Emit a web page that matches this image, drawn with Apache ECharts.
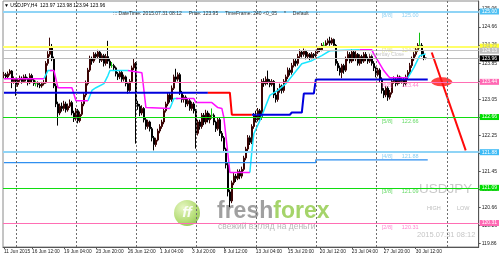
<!DOCTYPE html>
<html><head><meta charset="utf-8">
<script src="https://cdn.jsdelivr.net/npm/echarts@6/dist/echarts.min.js"></script>
<style>html,body{margin:0;padding:0;background:#fff}#c{width:500px;height:257px}</style>
</head><body><div id="c"></div>
<script>
// [open, close, low, high] per H4 bar
const candles = [
[123.58,123.60,123.52,123.66],[123.60,123.55,123.50,123.64],[123.55,123.62,123.51,123.67],[123.62,123.68,123.58,123.72],[123.68,123.45,123.30,123.70],
[123.45,123.50,123.40,123.56],[123.50,123.38,123.13,123.53],[123.38,123.48,123.33,123.52],[123.48,123.52,123.44,123.58],[123.52,123.45,123.40,123.56],
[123.45,123.55,123.42,123.60],[123.55,123.50,123.45,123.61],[123.50,123.42,123.36,123.54],[123.42,123.58,123.39,123.63],[123.58,123.48,123.43,123.62],
[123.48,123.40,123.35,123.52],[123.40,123.40,123.34,123.47],[123.40,123.38,123.32,123.45],[123.38,123.35,123.30,123.42],[123.35,123.40,123.31,123.44],
[123.40,123.42,123.36,123.48],[123.42,123.85,123.40,123.90],[123.85,124.05,123.80,124.12],[124.05,124.20,124.00,124.42],[124.20,123.95,123.90,124.28],
[123.95,123.35,123.30,124.00],[123.35,122.95,122.88,123.40],[122.95,122.75,122.47,123.00],[122.75,122.90,122.70,122.96],[122.90,122.85,122.78,122.98],
[122.85,122.95,122.80,123.02],[122.95,122.82,122.76,123.00],[122.82,122.90,122.78,122.96],[122.90,122.98,122.86,123.05],[122.98,122.75,122.70,123.02],
[122.75,122.62,122.55,122.80],[122.62,122.80,122.58,122.86],[122.80,122.58,122.52,122.84],[122.58,122.72,122.54,122.78],[122.72,122.95,122.68,123.00],
[122.95,123.15,122.90,123.20],[123.15,123.40,123.10,123.47],[123.40,123.70,123.36,123.75],[123.70,123.95,123.66,124.02],[123.95,123.90,123.82,124.00],
[123.90,124.05,123.86,124.10],[124.05,124.00,123.94,124.09],[124.00,124.10,123.96,124.15],[124.10,123.92,123.86,124.13],[123.92,124.02,123.88,124.07],
[124.02,123.85,123.78,124.06],[123.85,124.00,123.80,124.06],[124.00,123.90,123.84,124.35],[123.90,123.80,123.74,123.95],[123.80,123.80,123.75,123.88],
[123.80,123.75,123.68,123.84],[123.75,123.62,123.56,123.78],[123.62,123.55,123.48,123.66],[123.55,123.65,123.50,123.70],[123.65,123.50,123.44,123.68],
[123.50,123.55,123.45,123.60],[123.55,123.40,123.34,123.58],[123.40,123.25,123.18,123.44],[123.25,123.45,123.22,123.50],[123.45,123.75,123.42,123.80],
[123.75,123.85,123.70,123.95],[123.85,122.95,122.07,123.88],[122.95,122.90,122.82,123.02],[122.90,122.75,122.68,122.95],[122.75,122.85,122.70,122.92],
[122.85,122.60,122.54,122.88],[122.60,122.45,122.38,122.64],[122.45,122.55,122.40,122.60],[122.55,122.40,122.34,122.58],[122.40,122.20,122.12,122.44],
[122.20,122.05,121.92,122.24],[122.05,122.15,122.00,122.20],[122.15,122.35,122.12,122.40],[122.35,122.45,122.30,122.50],[122.45,122.55,122.40,122.60],
[122.55,122.80,122.50,122.86],[122.80,122.95,122.76,123.00],[122.95,123.15,122.90,123.20],[123.15,123.05,122.98,123.20],[123.05,123.30,123.00,123.36],
[123.30,123.55,123.26,123.60],[123.55,123.50,123.44,123.73],[123.50,123.60,123.45,123.65],[123.60,123.20,123.15,123.64],[123.20,123.05,122.98,123.24],
[123.05,123.10,122.98,123.15],[123.10,122.95,122.88,123.14],[122.95,123.02,122.90,123.08],[123.02,122.85,122.80,123.06],[122.85,122.95,122.80,123.00],
[122.95,122.80,122.74,122.99],[122.80,122.30,121.96,122.84],[122.30,122.55,122.25,122.60],[122.55,122.45,122.38,122.60],[122.45,122.70,122.40,122.75],
[122.70,122.55,122.48,122.75],[122.55,122.75,122.50,122.82],[122.75,122.60,122.54,122.80],[122.60,122.70,122.52,122.74],[122.70,122.70,122.62,122.85],
[122.70,122.55,122.48,122.74],[122.55,122.40,122.33,122.58],[122.40,122.60,122.36,122.65],[122.60,122.30,122.24,122.64],[122.30,122.20,122.12,122.35],
[122.20,121.95,121.88,122.24],[121.95,121.60,121.52,121.98],[121.60,121.00,120.90,121.64],[121.00,120.80,120.66,121.05],[120.80,121.20,120.75,121.25],
[121.20,121.35,121.15,121.42],[121.35,121.30,121.22,121.40],[121.30,121.45,121.26,121.50],[121.45,121.35,121.28,121.50],[121.35,121.50,121.30,121.56],
[121.50,121.75,121.46,121.80],[121.75,121.95,121.70,122.00],[121.95,122.20,121.90,122.26],[122.20,122.10,122.04,122.25],[122.10,122.45,122.06,122.50],
[122.45,122.70,122.40,122.75],[122.70,122.60,122.54,122.80],[122.60,122.80,122.56,122.86],[122.80,122.65,122.58,122.84],[122.65,123.45,122.60,123.50],
[123.45,123.40,123.33,123.52],[123.40,123.50,123.36,123.56],[123.50,123.45,123.38,123.69],[123.45,123.38,123.32,123.50],[123.38,123.45,123.34,123.50],
[123.45,123.15,123.08,123.48],[123.15,123.05,122.98,123.20],[123.05,123.25,123.00,123.30],[123.25,123.35,123.20,123.40],[123.35,123.25,123.18,123.38],
[123.25,123.45,123.20,123.50],[123.45,123.55,123.40,123.60],[123.55,123.70,123.50,123.76],[123.70,123.65,123.58,123.75],[123.65,123.80,123.60,123.86],
[123.80,123.90,123.76,123.96],[123.90,123.85,123.78,123.95],[123.85,124.00,123.80,124.06],[124.00,124.10,123.95,124.16],[124.10,124.05,123.98,124.14],
[124.05,124.12,124.00,124.18],[124.12,124.00,123.94,124.15],[124.00,124.05,123.95,124.10],[124.05,123.98,123.92,124.08],[123.98,124.05,123.94,124.10],
[124.05,124.02,123.96,124.08],[124.02,124.10,123.98,124.15],[124.10,124.18,124.06,124.22],[124.18,124.15,124.10,124.22],[124.15,124.25,124.12,124.30],
[124.25,124.25,124.20,124.32],[124.25,124.30,124.20,124.36],[124.30,124.35,124.26,124.40],[124.35,124.30,124.24,124.44],[124.30,124.38,124.26,124.42],
[124.38,124.25,124.20,124.40],[124.25,123.85,123.80,124.28],[123.85,123.75,123.68,123.90],[123.75,123.65,123.58,123.80],[123.65,123.80,123.52,123.84],
[123.80,123.70,123.62,123.84],[123.70,123.95,123.66,124.00],[123.95,124.05,123.90,124.12],[124.05,123.90,123.85,124.10],[123.90,124.10,123.86,124.16],
[124.10,123.95,123.90,124.14],[123.95,124.05,123.90,124.12],[124.05,123.85,123.80,124.08],[123.85,124.00,123.80,124.05],[124.00,123.90,123.84,124.04],
[123.90,124.05,123.86,124.10],[124.05,123.95,123.90,124.10],[123.95,123.90,123.84,124.00],[123.90,124.00,123.86,124.06],[124.00,123.85,123.80,124.04],
[123.85,123.75,123.68,123.90],[123.75,123.60,123.54,123.78],[123.60,123.70,123.56,123.75],[123.70,123.50,123.44,123.74],[123.50,123.25,123.18,123.54],
[123.25,123.15,123.08,123.30],[123.15,123.30,123.10,123.35],[123.30,123.10,123.02,123.34],[123.10,123.20,123.05,123.26],[123.20,123.45,123.16,123.50],
[123.45,123.50,123.40,123.56],[123.50,123.40,123.34,123.54],[123.40,123.55,123.36,123.60],[123.55,123.45,123.40,123.58],[123.45,123.50,123.40,123.55],
[123.50,123.40,123.33,123.54],[123.40,123.55,123.36,123.60],[123.55,123.65,123.50,123.70],[123.65,123.80,123.60,123.86],[123.80,123.95,123.75,124.00],
[123.95,124.05,123.90,124.10],[124.05,124.15,124.00,124.20],[124.15,124.25,124.10,124.30],[124.25,124.25,124.18,124.53],[124.25,124.05,124.00,124.30],
[124.05,123.97,123.92,124.12],[123.97,123.96,123.94,123.98]
];
const dojiIdx = [16, 54, 104, 160, 208];

const NCAT = 238;
const xTickIdx  = [0, 14, 30, 46, 62, 78, 94, 110, 126, 142, 158, 174, 190, 206];
const xTickText = ['11 Jun 2015','16 Jun 12:00','19 Jun 04:00','23 Jun 20:00','26 Jun 12:00','1 Jul 04:00','3 Jul 20:00',
                   '8 Jul 12:00','13 Jul 04:00','15 Jul 20:00','20 Jul 12:00','23 Jul 04:00','27 Jul 20:00','30 Jul 12:00'];
const yTickValues = [125.06,124.66,124.26,123.85,123.45,123.05,122.65,122.25,121.85,121.45,121.05,120.66,120.26,119.86];
const separatorIdx = [6, 36, 66, 96, 126, 156, 186, 222];

const levelNames  = ['[8/8]','[7/8]','[6/8]','[5/8]','[4/8]','[3/8]','[2/8]'];
const levelValues = [125.00, 124.22, 123.44, 122.66, 121.88, 121.09, 120.31];
const yesterdayClose = 124.13;
const bidPrice = 123.96;

const cyanSegs = [
 [[20,123.51],[22,123.69],[24,123.69]],
 [[42,123.02],[44,123.25],[46,123.31],[50,123.40],[52,123.58],[53,123.69],[62,123.69]],
 [[83,122.85],[85,123.07],[87,123.07]],
 [[123,121.43],[124,121.90],[125,122.29],[128,122.58],[129,122.69],[133,123.14],[137,123.25],[141,123.40],[143,123.51],[149,123.84],[154,123.91],[159,124.02],[163,124.13],[178,124.15]],
 [[202,123.53],[205,123.75],[208,124.02],[211,124.06]]
];
const magentaSegs = [
 [[0,123.51],[20,123.51]],
 [[23,123.69],[25,123.69],[27,123.31],[34,123.31],[36,123.02],[42,123.02]],
 [[62,123.69],[69,123.64],[71,122.87],[83,122.85]],
 [[86,123.07],[95,123.07],[96,122.98],[104,122.98],[107,122.87],[109,122.85],[110,122.65],[112,121.85],[113,121.43],[123,121.43]],
 [[178,124.15],[184,124.15],[185,124.06],[188,123.84],[190,123.69],[192,123.58],[193,123.53],[202,123.53]]
];
const blueSegs = [
 [[0,123.20],[102,123.20]],
 [[124,122.71],[143,122.71],[144,122.76],[149,122.76],[150,123.18],[155,123.18],[156,123.49],[212,123.49]]
];
const redSegs = [
 [[102,123.20],[113,123.20],[114,122.71],[124,122.71]]
];
const lowerBand = [[0,121.65],[156,121.65],[156,121.71],[212,121.71]];
const forecastLine = [[214,124.09],[231,121.92]];
const targetPoint = [219, 123.44];

// ---------- build ----------
const categories = [];
for (let i = 0; i < NCAT; i++) categories.push('');
xTickIdx.forEach((ix, k) => { categories[ix] = xTickText[k]; });

const candleData = candles.map((c, i) => dojiIdx.includes(i)
  ? { value: c, itemStyle: { color: '#10c010', color0: '#10c010', borderColor: '#10c010', borderColor0: '#10c010' } }
  : c);

const levelStyle = [
  { line: '#8fd4f6', w: 2, box: '#4dbff2', txt: '#fff', tc: '#78c6ee' },
  { line: '#ffff6a', w: 2, box: '#ffff33', txt: '#b0b0b0', tc: '#e2e27a' },
  { line: '#ff6eb4', w: 1, box: '#ff69b4', txt: '#fff', tc: '#ff66c4' },
  { line: '#10dd10', w: 1, box: '#00dd00', txt: '#fff', tc: '#40d040' },
  { line: '#8fd4f6', w: 2, box: '#3dbaf5', txt: '#fff', tc: '#6ec2ee' },
  { line: '#10dd10', w: 1, box: '#00dd00', txt: '#fff', tc: '#40d040' },
  { line: '#ff6eb4', w: 1, box: '#ff69b4', txt: '#fff', tc: '#ff66c4' }
];
const FONT = 'Liberation Sans, Arial, sans-serif';
function boxLabel(bg, fg) {
  return { show: true, position: 'end', distance: 1, formatter: p => p.value.toFixed(2),
           backgroundColor: bg, color: fg, fontSize: 5, fontFamily: FONT, padding: [1, 2, 0, 2] };
}
const levelLines = levelValues.map((v, k) => ({
  yAxis: v, lineStyle: { color: levelStyle[k].line, width: levelStyle[k].w, type: 'solid' },
  label: boxLabel(levelStyle[k].box, levelStyle[k].txt)
}));
levelLines.push({ yAxis: yesterdayClose, lineStyle: { color: '#c4c4c4', width: 1, type: 'solid' }, label: boxLabel('#c0c0c0', '#fff') });
levelLines.push({ yAxis: bidPrice, lineStyle: { color: '#bdbdbd', width: 1, type: 'solid' }, label: boxLabel('#000', '#fff') });

const textIdx = 189;
const levelTextData = levelValues.map((v, k) => ({
  value: [textIdx, v],
  label: { formatter: '{a|' + levelNames[k] + '}{b|' + v.toFixed(2) + '}',
           rich: { a: { color: levelStyle[k].tc, width: 20, fontSize: 5.5, fontFamily: FONT },
                   b: { color: levelStyle[k].tc, fontSize: 5.5, fontFamily: FONT } } }
}));
levelTextData.push({ value: [182, yesterdayClose],
  label: { formatter: 'Yesterday Close', color: '#b8b8b8', fontSize: 5, fontFamily: FONT } });

const series = [];
series.push({
  type: 'line', name: 'levels', data: [], z: 1, silent: true, symbol: 'none',
  markLine: { symbol: 'none', silent: true, animation: false, data: levelLines }
});
series.push({
  type: 'candlestick', name: 'USDJPY,H4', data: candleData, z: 2, barWidth: 1.8,
  itemStyle: { color: '#7d0a0a', color0: '#000', borderColor: '#3a0404', borderColor0: '#000', borderWidth: 1 },
  markLine: { symbol: 'none', silent: true, animation: false, label: { show: false },
    lineStyle: { color: '#6f6f6f', width: 1, type: [2, 2] },
    data: separatorIdx.map(i => ({ xAxis: i })) }
});
function segSeries(segs, color, width) {
  segs.forEach(s => series.push({ type: 'line', data: s, z: 3, symbol: 'none', silent: true,
    lineStyle: { color: color, width: width }, animation: false }));
}
segSeries(cyanSegs, '#19e6ff', 1.5);
segSeries(magentaSegs, '#ff10ff', 1.5);
segSeries(blueSegs, '#0000dd', 2);
segSeries(redSegs, '#ff0000', 2);
segSeries([lowerBand], '#2f8ff0', 1.3);
segSeries([forecastLine], '#ff0a0a', 2);
series.push({ type: 'scatter', data: [targetPoint], symbol: 'circle', symbolSize: [21, 9], z: 4,
  itemStyle: { color: '#ff1414' }, silent: true });
series.push({ type: 'scatter', data: levelTextData, symbolSize: 0, z: 4, silent: true,
  label: { show: true, position: [0, 1], align: 'left', verticalAlign: 'top' } });

const chart = echarts.init(document.getElementById('c'), null, { renderer: 'canvas' });
chart.setOption({
  animation: false,
  backgroundColor: '#ffffff',
  grid: { left: 3, right: 21, top: 1, bottom: 10, show: true, borderColor: '#8a8a8a', borderWidth: 1 },
  xAxis: {
    type: 'category', data: categories, boundaryGap: true,
    axisLine: { show: true, lineStyle: { color: '#555', width: 1 } },
    axisTick: { show: true, length: 2, alignWithLabel: true, interval: (i) => xTickIdx.includes(i), lineStyle: { color: '#555' } },
    axisLabel: { interval: (i) => xTickIdx.includes(i), fontSize: 4.8, color: '#222', align: 'left', margin: 2, fontFamily: FONT },
    splitLine: { show: false }
  },
  yAxis: {
    type: 'value', position: 'right', min: 119.778, max: 125.233, scale: true,
    axisLine: { show: true, lineStyle: { color: '#555', width: 1 } },
    axisTick: { show: true, length: 2, customValues: yTickValues, lineStyle: { color: '#555' } },
    axisLabel: { customValues: yTickValues, formatter: v => v.toFixed(2), fontSize: 5, color: '#222', margin: 3, fontFamily: FONT },
    splitLine: { show: false }
  },
  graphic: [
    { type: 'text', x: 4, y: 3, z: 10, style: { text: '\u25BC USDJPY,H4  123.97 123.98 123.94 123.96', fontSize: 5, fontFamily: FONT, fill: '#000', verticalAlign: 'top' } },
    { type: 'text', x: 113, y: 11, z: 10, style: { text: '::: DateTime: 2015.07.31 08:12     Price: 123.95     TimeFrame: 240 <0_05     *     Default     :::', fontSize: 5, fontFamily: FONT, fill: '#333', verticalAlign: 'top' } },
    { type: 'text', x: 419, y: 182, z: 1, style: { text: 'USDJPY', fontSize: 13.5, fontFamily: FONT, fill: '#c9c9c9', verticalAlign: 'top' } },
    { type: 'text', x: 427, y: 205, z: 1, style: { text: 'HIGH', fontSize: 5.5, fontFamily: FONT, fill: '#bdbdbd', verticalAlign: 'top' } },
    { type: 'text', x: 457, y: 205, z: 1, style: { text: 'LOW', fontSize: 5.5, fontFamily: FONT, fill: '#bdbdbd', verticalAlign: 'top' } },
    { type: 'text', x: 417, y: 231, z: 1, style: { text: '2015.07.31 08:12', fontSize: 7.5, fontFamily: FONT, fill: '#c6c6c6', verticalAlign: 'top' } },
    { type: 'circle', z: 1, shape: { cx: 187, cy: 213, r: 13 }, style: { opacity: 0.85,
        fill: new echarts.graphic.RadialGradient(0.35, 0.3, 0.9, [{ offset: 0, color: '#e2f4b8' }, { offset: 0.6, color: '#a6d65c' }, { offset: 1, color: '#6fae2a' }]) } },
    { type: 'text', x: 187, y: 213, z: 1, style: { text: 'ff', fontSize: 15, fontStyle: 'italic', fontWeight: 'bold', fontFamily: FONT, fill: 'rgba(255,255,255,0.9)', align: 'center', verticalAlign: 'middle' } },
    { type: 'text', x: 217, y: 200, z: 1, style: { text: '{a|fresh}{b|forex}', fontFamily: FONT, verticalAlign: 'top',
        rich: { a: { fontSize: 23, fontWeight: 'bold', fill: '#a0a0a0', color: '#a0a0a0', fontFamily: FONT }, b: { fontSize: 23, fontWeight: 'bold', color: '#a5d46a', fill: '#a5d46a', fontFamily: FONT } } } },
    { type: 'text', x: 218, y: 222, z: 1, style: { text: 'свежий взгляд на деньги', fontSize: 8.5, fontFamily: FONT, fill: '#b8b8b8', verticalAlign: 'top' } }
  ],
  series: series
});
</script>
</body></html>
